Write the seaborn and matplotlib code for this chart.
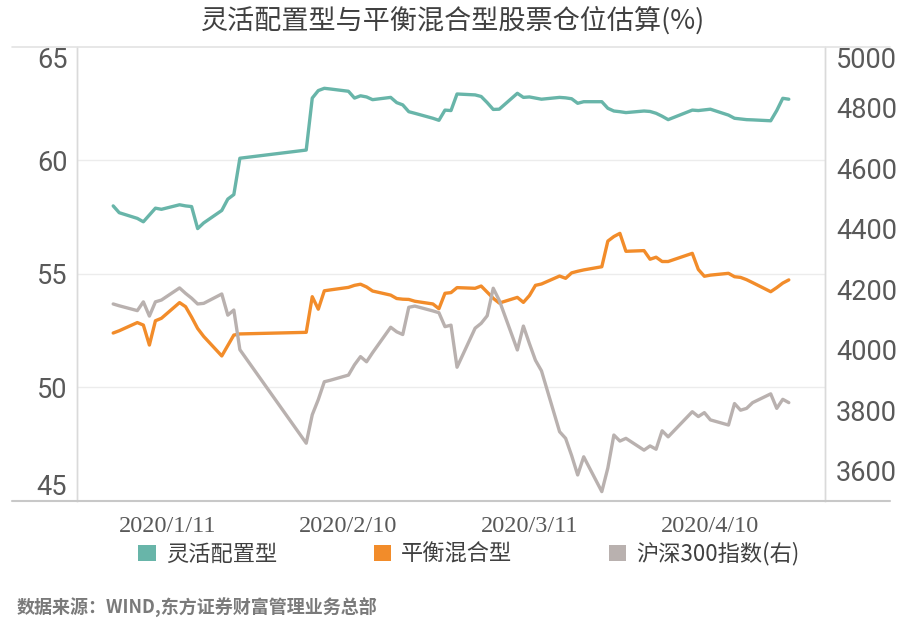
import matplotlib
matplotlib.use("Agg")
import matplotlib.pyplot as plt
from matplotlib.lines import Line2D
from matplotlib.patches import Patch
from matplotlib import font_manager
from matplotlib.ticker import FixedLocator, FuncFormatter
import matplotlib.dates as mdates
import seaborn as sns
import pandas as pd

# ---------------- data ----------------
dates = [
    "2020-01-02", "2020-01-03", "2020-01-06", "2020-01-07", "2020-01-08", "2020-01-09", "2020-01-10",
    "2020-01-13", "2020-01-14", "2020-01-15", "2020-01-16", "2020-01-17", "2020-01-20", "2020-01-21",
    "2020-01-22", "2020-01-23",
    "2020-02-03", "2020-02-04", "2020-02-05", "2020-02-06", "2020-02-07", "2020-02-10", "2020-02-11",
    "2020-02-12", "2020-02-13", "2020-02-14", "2020-02-17", "2020-02-18", "2020-02-19", "2020-02-20",
    "2020-02-21", "2020-02-24", "2020-02-25", "2020-02-26", "2020-02-27", "2020-02-28",
    "2020-03-02", "2020-03-03", "2020-03-04", "2020-03-05", "2020-03-06", "2020-03-09", "2020-03-10",
    "2020-03-11", "2020-03-12", "2020-03-13", "2020-03-16", "2020-03-17", "2020-03-18", "2020-03-19",
    "2020-03-20", "2020-03-23", "2020-03-24", "2020-03-25", "2020-03-26", "2020-03-27", "2020-03-30",
    "2020-03-31",
    "2020-04-01", "2020-04-02", "2020-04-03", "2020-04-07", "2020-04-08", "2020-04-09", "2020-04-10",
    "2020-04-13", "2020-04-14", "2020-04-15", "2020-04-16", "2020-04-17", "2020-04-20", "2020-04-21",
    "2020-04-22", "2020-04-23",
]

flexible = [  # 灵活配置型 (left axis, %)
    58.0, 57.7, 57.45, 57.3, 57.6, 57.9, 57.85, 58.05, 58.0, 57.97, 57.0, 57.25, 57.8, 58.3, 58.5, 60.1,
    60.46, 62.75, 63.08, 63.18, 63.15, 63.05, 62.75, 62.85, 62.8, 62.68, 62.78, 62.55, 62.45, 62.15,
    62.08, 61.86, 61.77, 62.22, 62.2, 62.93,
    62.89, 62.82, 62.55, 62.25, 62.26, 62.96, 62.78, 62.8, 62.75, 62.7, 62.78, 62.76, 62.72, 62.52,
    62.59, 62.59, 62.3, 62.18, 62.15, 62.11, 62.18, 62.16,
    62.08, 61.95, 61.8, 62.22, 62.2, 62.23, 62.26, 62.0, 61.86, 61.83, 61.8, 61.79, 61.75, 62.2,
    62.74, 62.7,
]

balanced = [  # 平衡混合型 (left axis, %)
    52.4, 52.5, 52.86, 52.75, 51.87, 52.94, 53.05, 53.74, 53.56, 53.1, 52.6, 52.25, 51.39, 51.85, 52.31, 52.36,
    52.43, 54.0, 53.45, 54.26, 54.3, 54.41, 54.5, 54.55, 54.43, 54.25, 54.07, 53.92, 53.89, 53.88,
    53.8, 53.68, 53.47, 54.15, 54.18, 54.4,
    54.37, 54.47, 54.2, 53.93, 53.72, 53.97, 53.75, 54.05, 54.5, 54.56, 54.91, 54.81, 55.05, 55.12,
    55.18, 55.32, 56.45, 56.65, 56.79, 56.0, 56.03, 55.65,
    55.74, 55.55, 55.55, 55.91, 55.2, 54.9, 54.95, 55.03, 54.88, 54.85, 54.75, 54.62, 54.22, 54.4,
    54.6, 54.74,
]

csi300 = [  # 沪深300指数 (right axis)
    4151, 4145, 4129, 4158, 4111, 4158, 4164, 4204, 4186, 4170, 4151, 4153, 4184, 4114, 4131, 4000,
    3691, 3785, 3835, 3894, 3899, 3916, 3950, 3977, 3960, 3990, 4074, 4059, 4050, 4140,
    4144, 4128, 4122, 4076, 4081, 3942,
    4071, 4087, 4112, 4203, 4163, 3999, 4078, 4020, 3965, 3930, 3729, 3707, 3650, 3586,
    3646, 3531, 3609, 3718, 3698, 3707, 3668, 3682,
    3671, 3732, 3712, 3795, 3779, 3792, 3768, 3751, 3822, 3800, 3806, 3825, 3854, 3806,
    3836, 3825,
]

series_names = ["灵活配置型", "平衡混合型", "沪深300指数(右)"]
left_ticks = [45, 50, 55, 60, 65]
right_ticks = [3600, 3800, 4000, 4200, 4400, 4600, 4800, 5000]
x_tick_dates = ["2019-12-27", "2020-01-11", "2020-01-26", "2020-02-10", "2020-02-25",
                "2020-03-11", "2020-03-26", "2020-04-10", "2020-04-25"]
x_label_dates = ["2020-01-11", "2020-02-10", "2020-03-11", "2020-04-10"]

title = "灵活配置型与平衡混合型股票仓位估算(%)"
source = "数据来源：WIND,东方证券财富管理业务总部"

# ---------------- style ----------------
sns.set_style("white")


def has_font(name):
    try:
        font_manager.findfont(font_manager.FontProperties(family=name), fallback_to_default=False)
        return True
    except Exception:
        return False


cjk = "Noto Sans CJK SC"
num_font = "Liberation Sans Narrow" if has_font("Liberation Sans Narrow") else "Roboto"
num_size = 22 if num_font == "Liberation Sans Narrow" else 19.5
plt.rcParams["font.family"] = [cjk, "DejaVu Sans"]
plt.rcParams["axes.unicode_minus"] = False

c_teal = "#68b5a9"
c_orange = "#f28c2a"
c_gray = "#b9b1af"
c_text = "#595959"

df = pd.DataFrame({
    "date": pd.to_datetime(dates),
    "flexible": flexible,
    "balanced": balanced,
    "csi300": csi300,
})

W, H = 912, 630
fig = plt.figure(figsize=(W / 100, H / 100), dpi=100)
L, R, T, B = 77, 825, 47, 501
ax = fig.add_axes([L / W, 1 - B / H, (R - L) / W, (B - T) / H])
ax2 = ax.twinx()

sns.lineplot(data=df, x="date", y="flexible", ax=ax, color=c_teal, lw=2.4, zorder=3)
sns.lineplot(data=df, x="date", y="balanced", ax=ax, color=c_orange, lw=2.4, zorder=3)
sns.lineplot(data=df, x="date", y="csi300", ax=ax2, color=c_gray, lw=2.4, zorder=2)

ax.set_xlim(pd.Timestamp("2019-12-27"), pd.Timestamp("2020-04-29"))
ax.set_ylim(45, 65)
ax2.set_ylim(3500, 5000)

# x ticks
tick_pos = [mdates.date2num(pd.Timestamp(d)) for d in x_tick_dates]
label_set = {pd.Timestamp(d) for d in x_label_dates}


def fmt_date(v, pos):
    d = pd.Timestamp(mdates.num2date(v).replace(tzinfo=None)).normalize()
    if d in label_set:
        return f"{d.year}/{d.month}/{d.day}"
    return ""


ax.xaxis.set_major_locator(FixedLocator(tick_pos))
ax.xaxis.set_major_formatter(FuncFormatter(fmt_date))
ax.tick_params(axis="x", length=5, width=0.8, color="#e0e0e0", pad=6,
               labelsize=17.5, labelcolor=c_text)
for lab in ax.get_xticklabels():
    lab.set_fontfamily(["Liberation Serif", "DejaVu Serif"])

# y ticks
ax.set_yticks(left_ticks)
ax.set_yticklabels([str(t) for t in left_ticks])
ax.tick_params(axis="y", length=0, pad=7, labelsize=num_size, labelcolor=c_text)
ax2.set_yticks(right_ticks)
ax2.set_yticklabels([str(t) for t in right_ticks])
ax2.tick_params(axis="y", length=0, pad=8, labelsize=num_size, labelcolor=c_text)
for lab in ax.get_yticklabels() + ax2.get_yticklabels():
    lab.set_fontfamily(num_font)
ylabs = ax.get_yticklabels()
ylabs[-1].set_va("top")
ylabs[0].set_va("bottom")
ax2.get_yticklabels()[-1].set_va("top")

ax.set_xlabel("")
ax.set_ylabel("")
ax2.set_ylabel("")

# grid: inner horizontal lines only
for v in [50, 55, 60]:
    ax.axhline(v, color="#ececec", lw=1, zorder=0)

for a in (ax, ax2):
    a.spines["top"].set_visible(False)
    a.spines["bottom"].set_visible(False)
    a.spines["left"].set_color("#dadada")
    a.spines["right"].set_color("#dadada")
    a.spines["left"].set_linewidth(1)
    a.spines["right"].set_linewidth(1)

# long horizontal rules at top and bottom of plot area
fig.add_artist(Line2D([12 / W, 890 / W], [1 - T / H, 1 - T / H], color="#e3e3e3", lw=1.2))
fig.add_artist(Line2D([12 / W, 890 / W], [1 - B / H, 1 - B / H], color="#c8c8c8", lw=1.5))

# title
fig.text(453 / W, 1 - 21 / H, title, ha="center", va="center", fontsize=19.5, color="#404040")

# legend
handles = [Patch(facecolor=c, edgecolor="none") for c in (c_teal, c_orange, c_gray)]
fig.legend(handles, series_names, loc="center", bbox_to_anchor=(469 / W, 1 - 554 / H), ncol=3,
           frameon=False, fontsize=16, handlelength=0.78, handleheight=0.72, handletextpad=0.45,
           columnspacing=4.35, labelcolor="#404040")

# source
fig.text(17 / W, 1 - 607 / H, source, ha="left", va="center", fontsize=13, color="#7a7a7a",
         fontweight="bold")

fig.savefig("out.png", dpi=100)
